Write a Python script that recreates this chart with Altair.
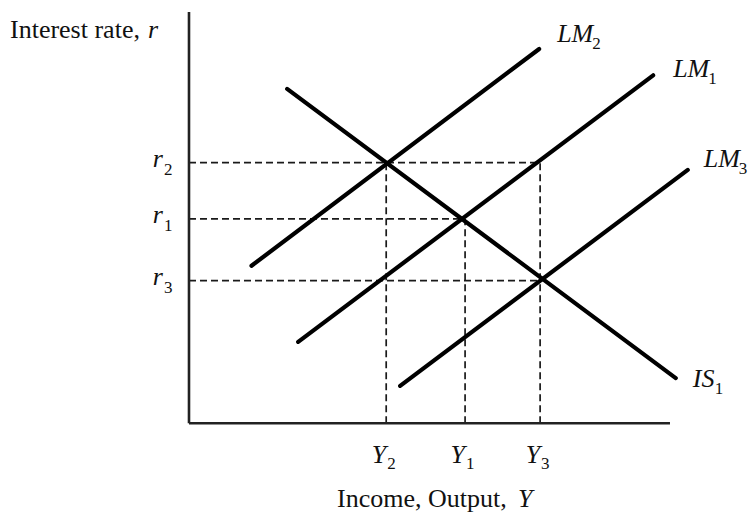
import altair as alt
import pandas as pd

# ---- model values (income Y on x, interest rate r on y; axis runs 0..100) ----
curve_names = ["LM2", "LM1", "LM3", "IS1"]
curve_Y0 = [13.0, 22.7, 43.9, 20.4]
curve_r0 = [38.3, 19.8, 9.1, 81.3]
curve_Y1 = [72.8, 96.5, 103.7, 101.2]
curve_r1 = [91.0, 84.6, 61.6, 11.0]

eq_subs = ["2", "1", "3"]
eq_Y = [41.0, 57.4, 73.0]
eq_r = [63.4, 49.7, 34.7]
h_guide_end = [73.0, 57.4, 73.0]   # r2 -> Y3, r1 -> Y1, r3 -> Y3
v_guide_top = [63.4, 49.7, 63.4]   # Y2 from r2, Y1 from r1, Y3 from r2

axis_max_Y = 100.0
axis_max_r = 100.0

INK = "#111111"
FONT = "Liberation Serif"
X_DOM = [-37.63, 116.22]
R_DOM = [-21.56, 100.97]


def X(f):
    return alt.X(f"{f}:Q", scale=alt.Scale(domain=X_DOM, nice=False, zero=False), axis=None)


def Yc(f):
    return alt.Y(f"{f}:Q", scale=alt.Scale(domain=R_DOM, nice=False, zero=False), axis=None)


curves = pd.DataFrame({"name": curve_names, "x": curve_Y0, "y": curve_r0,
                       "x2": curve_Y1, "y2": curve_r1})
curve_layer = alt.Chart(curves).mark_rule(strokeWidth=4.2, color="black", strokeCap="round").encode(
    x=X("x"), y=Yc("y"), x2="x2:Q", y2="y2:Q")

h_guides = pd.DataFrame({"x": [0.0] * 3, "y": eq_r, "x2": h_guide_end, "y2": eq_r})
v_guides = pd.DataFrame({"x": eq_Y, "y": [0.0] * 3, "x2": eq_Y, "y2": v_guide_top})
guides = pd.concat([h_guides, v_guides], ignore_index=True)
guide_layer = alt.Chart(guides).mark_rule(strokeWidth=1.7, color="#1a1a1a", strokeDash=[7, 4]).encode(
    x=X("x"), y=Yc("y"), x2="x2:Q", y2="y2:Q")

axes = pd.DataFrame({"x": [0.0, 0.0], "y": [0.0, 0.0], "x2": [0.0, axis_max_Y], "y2": [axis_max_r, 0.0]})
axis_layer = alt.Chart(axes).mark_rule(strokeWidth=2.6, color="#222222").encode(
    x=X("x"), y=Yc("y"), x2="x2:Q", y2="y2:Q")


def label(x, y, text, dx, dy, italic=True, size=26, align="left"):
    d = pd.DataFrame({"x": [x], "y": [y], "t": [text]})
    return alt.Chart(d).mark_text(
        align=align, baseline="alphabetic", dx=dx, dy=dy, font=FONT, fontSize=size,
        fontStyle="italic" if italic else "normal", color=INK
    ).encode(x=X("x"), y=Yc("y"), text="t:N")


SUB = 17
texts = []
# axis titles
texts.append(label(0, axis_max_r, "Interest rate,", -179, 26, italic=False))
texts.append(label(0, axis_max_r, "r", -41, 26))
texts.append(label(0, 0, "Income, Output,", 148, 84, italic=False))
texts.append(label(0, 0, "Y", 329, 84))

# tick-style labels
for s, r in zip(eq_subs, eq_r):
    texts.append(label(0, r, "r", -26, 4, align="right"))
    texts.append(label(0, r, s, -25, 12, italic=False, size=SUB))
for s, yv in zip(eq_subs, eq_Y):
    texts.append(label(yv, 0, "Y", 0, 40, align="right"))
    texts.append(label(yv, 0, s, 1, 46, italic=False, size=SUB))

# curve labels
curve_lab = {"LM2": ("LM", "2", 18, -7), "LM1": ("LM", "1", 20, 2),
             "LM3": ("LM", "3", 16, -3), "IS1": ("IS", "1", 17, 9)}
for n, x1, y1 in zip(curve_names, curve_Y1, curve_r1):
    main, sub, dx, dy = curve_lab[n]
    w = 35 if main == "LM" else 22
    texts.append(label(x1, y1, main, dx, dy))
    texts.append(label(x1, y1, sub, dx + w, dy + 7, italic=False, size=SUB))

chart = alt.layer(guide_layer, axis_layer, curve_layer, *texts).properties(
    width=740, height=504, padding=0, autosize=alt.AutoSizeParams(type="none")
).configure_view(strokeWidth=0)

chart.save("out.html", embed_options={"renderer": "svg", "actions": False})
